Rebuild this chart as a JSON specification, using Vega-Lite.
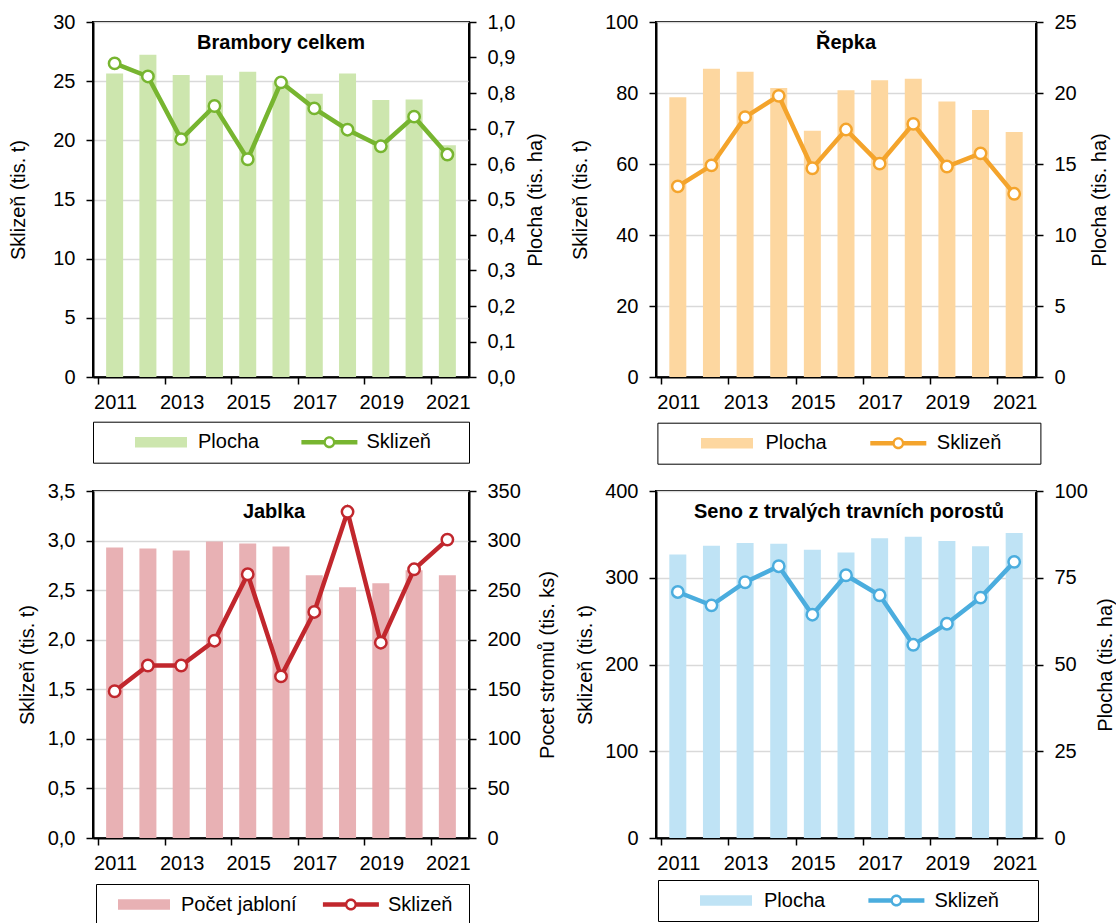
{
  "$schema": "https://vega.github.io/schema/vega-lite/v6.json",
  "padding": {"left": 7, "top": 11, "right": 0, "bottom": 0},
  "background": "white",
  "columns": 2,
  "spacing": {"row": 14, "column": 11},
  "align": "each",
  "resolve": {"scale": {"color": "independent"}},
  "config": {
    "locale": {"number": {"decimal": ",", "thousands": " ", "grouping": [3], "currency": ["", " Kč"]}},
    "font": "Liberation Sans",
    "view": {"stroke": "#000000", "strokeWidth": 2},
    "axis": {
      "labelFont": "Liberation Sans", "labelFontSize": 20, "labelColor": "#000000",
      "titleFont": "Liberation Sans", "titleFontSize": 20, "titleFontWeight": "normal", "titleColor": "#000000",
      "domainColor": "#000000", "domainWidth": 2, "tickColor": "#000000", "tickWidth": 1.5, "tickSize": 7,
      "labelPadding": 11, "gridColor": "#d9d9d9", "gridWidth": 1.3
    },
    "title": {"font": "Liberation Sans", "fontSize": 20, "fontWeight": "bold", "color": "#000000", "frame": "group", "anchor": "middle", "baseline": "middle", "offset": -41}
  },
  "concat": [
    {
      "width": 376, "height": 355,
      "title": {"text": "Brambory celkem"},
      "data": {"values": [
        {"rok": 2011, "plocha": 0.855, "sklizen": 26.5},
        {"rok": 2012, "plocha": 0.908, "sklizen": 25.4},
        {"rok": 2013, "plocha": 0.851, "sklizen": 20.1},
        {"rok": 2014, "plocha": 0.850, "sklizen": 22.9},
        {"rok": 2015, "plocha": 0.860, "sklizen": 18.4},
        {"rok": 2016, "plocha": 0.830, "sklizen": 24.9},
        {"rok": 2017, "plocha": 0.798, "sklizen": 22.7},
        {"rok": 2018, "plocha": 0.855, "sklizen": 20.9},
        {"rok": 2019, "plocha": 0.780, "sklizen": 19.5},
        {"rok": 2020, "plocha": 0.782, "sklizen": 22.0},
        {"rok": 2021, "plocha": 0.653, "sklizen": 18.8}
      ]},
      "resolve": {"scale": {"y": "independent"}},
      "layer": [
        {
          "mark": {"type": "bar", "width": 17},
          "encoding": {
            "x": {"field": "rok", "type": "quantitative", "scale": {"domain": [2010.5, 2021.5], "nice": false, "zero": false},
              "axis": {"title": null, "grid": false, "values": [2010.5, 2011.5, 2012.5, 2013.5, 2014.5, 2015.5, 2016.5, 2017.5, 2018.5, 2019.5, 2020.5, 2021.5],
                "labelExpr": "(datum.value + 0.5) % 2 == 1 ? '' + (datum.value + 0.5) : ''", "labelOffset": 17.09, "labelFlush": false, "labelOverlap": false, "labelPadding": 8}},
            "y": {"field": "plocha", "type": "quantitative", "scale": {"domain": [0, 1], "nice": false},
              "axis": {"orient": "right", "title": "Plocha (tis. ha)", "grid": false, "values": [0, 0.1, 0.2, 0.3, 0.4, 0.5, 0.6, 0.7, 0.8, 0.9, 1.0], "format": ".1f",
                "titleAngle": 270, "titleX": 66, "titleY": 177.5, "titleBaseline": "middle", "titleAlign": "center"}},
            "color": {"datum": "Plocha", "type": "nominal", "scale": {"domain": ["Plocha", "Sklizeň"], "range": ["#cde6ae", "#77b530"]},
              "legend": {"orient": "none", "legendX": 0, "legendY": 399.7, "direction": "horizontal", "title": null,
                "padding": 10.5, "strokeColor": "#000000", "fillColor": "#ffffff",
                "symbolSize": 400, "symbolStrokeWidth": 0, "symbolOffset": 47.5, "labelOffset": 27, "columnPadding": 12.4,
                "labelFontSize": 20, "labelFont": "Liberation Sans", "labelColor": "#000000", "labelLimit": 300,
                "encode": {"symbols": {"update": {
                  "shape": {"signal": "datum.value === 'Plocha' ? 'M-5.75,0M-2.6,-0.53H2.6V0.53H-2.6Z' : 'M-5.75,0M12.85,0M-2.8,-0.22H-0.5V0.22H-2.8ZM0.5,-0.22H2.8V0.22H0.5ZM0.6,0A0.6,0.6 0 1,1 -0.6,0A0.6,0.6 0 1,1 0.6,0ZM0.36,0A0.36,0.36 0 1,0 -0.36,0A0.36,0.36 0 1,0 0.36,0Z'"},
                  "fill": {"signal": "datum.value === 'Plocha' ? '#cde6ae' : '#77b530'"},
                  "stroke": {"value": "transparent"}, "strokeWidth": {"value": 0}, "opacity": {"value": 1}}}}}}
          }
        },
        {
          "mark": {"type": "line", "strokeWidth": 4.5},
          "encoding": {
            "x": {"field": "rok", "type": "quantitative"},
            "y": {"field": "sklizen", "type": "quantitative", "scale": {"domain": [0, 30], "nice": false},
              "axis": {"orient": "left", "title": "Sklizeň (tis. t)", "grid": true, "values": [0, 5, 10, 15, 20, 25, 30], "format": "d",
                "titleAngle": 270, "titleX": -75, "titleY": 177.5, "titleBaseline": "middle", "titleAlign": "center"}},
            "color": {"datum": "Sklizeň", "type": "nominal"}
          }
        },
        {
          "mark": {"type": "point", "filled": true, "fill": "#ffffff", "stroke": "#77b530", "strokeWidth": 2.5, "size": 130, "opacity": 1},
          "encoding": {
            "x": {"field": "rok", "type": "quantitative"},
            "y": {"field": "sklizen", "type": "quantitative", "scale": {"domain": [0, 30], "nice": false}, "axis": null}
          }
        }
      ]
    },
    {
      "width": 380, "height": 355,
      "title": {"text": "Řepka"},
      "data": {"values": [
        {"rok": 2011, "plocha": 19.7, "sklizen": 53.7},
        {"rok": 2012, "plocha": 21.7, "sklizen": 59.6},
        {"rok": 2013, "plocha": 21.5, "sklizen": 73.2},
        {"rok": 2014, "plocha": 20.35, "sklizen": 79.2},
        {"rok": 2015, "plocha": 17.35, "sklizen": 58.8},
        {"rok": 2016, "plocha": 20.2, "sklizen": 69.7},
        {"rok": 2017, "plocha": 20.9, "sklizen": 60.1},
        {"rok": 2018, "plocha": 21.0, "sklizen": 71.3},
        {"rok": 2019, "plocha": 19.4, "sklizen": 59.3},
        {"rok": 2020, "plocha": 18.8, "sklizen": 63.0},
        {"rok": 2021, "plocha": 17.25, "sklizen": 51.6}
      ]},
      "resolve": {"scale": {"y": "independent"}},
      "layer": [
        {
          "mark": {"type": "bar", "width": 17},
          "encoding": {
            "x": {"field": "rok", "type": "quantitative", "scale": {"domain": [2010.5, 2021.5], "nice": false, "zero": false},
              "axis": {"title": null, "grid": false, "values": [2010.5, 2011.5, 2012.5, 2013.5, 2014.5, 2015.5, 2016.5, 2017.5, 2018.5, 2019.5, 2020.5, 2021.5],
                "labelExpr": "(datum.value + 0.5) % 2 == 1 ? '' + (datum.value + 0.5) : ''", "labelOffset": 17.27, "labelFlush": false, "labelOverlap": false, "labelPadding": 8}},
            "y": {"field": "plocha", "type": "quantitative", "scale": {"domain": [0, 25], "nice": false},
              "axis": {"orient": "right", "title": "Plocha (tis. ha)", "grid": false, "values": [0, 5, 10, 15, 20, 25], "format": "d",
                "titleAngle": 270, "titleX": 63, "titleY": 177.5, "titleBaseline": "middle", "titleAlign": "center"}},
            "color": {"datum": "Plocha", "type": "nominal", "scale": {"domain": ["Plocha", "Sklizeň"], "range": ["#fdd7a0", "#f4a42c"]},
              "legend": {"orient": "none", "legendX": 1.4, "legendY": 400.7, "direction": "horizontal", "title": null,
                "padding": 10.5, "strokeColor": "#000000", "fillColor": "#ffffff",
                "symbolSize": 400, "symbolStrokeWidth": 0, "symbolOffset": 49.1, "labelOffset": 28.5, "columnPadding": 12.3,
                "labelFontSize": 20, "labelFont": "Liberation Sans", "labelColor": "#000000", "labelLimit": 300,
                "encode": {"symbols": {"update": {
                  "shape": {"signal": "datum.value === 'Plocha' ? 'M-5.91,0M-2.6,-0.53H2.6V0.53H-2.6Z' : 'M-5.91,0M13.12,0M-2.8,-0.22H-0.5V0.22H-2.8ZM0.5,-0.22H2.8V0.22H0.5ZM0.6,0A0.6,0.6 0 1,1 -0.6,0A0.6,0.6 0 1,1 0.6,0ZM0.36,0A0.36,0.36 0 1,0 -0.36,0A0.36,0.36 0 1,0 0.36,0Z'"},
                  "fill": {"signal": "datum.value === 'Plocha' ? '#fdd7a0' : '#f4a42c'"},
                  "stroke": {"value": "transparent"}, "strokeWidth": {"value": 0}, "opacity": {"value": 1}}}}}}
          }
        },
        {
          "mark": {"type": "line", "strokeWidth": 4.5},
          "encoding": {
            "x": {"field": "rok", "type": "quantitative"},
            "y": {"field": "sklizen", "type": "quantitative", "scale": {"domain": [0, 100], "nice": false},
              "axis": {"orient": "left", "title": "Sklizeň (tis. t)", "grid": true, "values": [0, 20, 40, 60, 80, 100], "format": "d",
                "titleAngle": 270, "titleX": -76, "titleY": 177.5, "titleBaseline": "middle", "titleAlign": "center"}},
            "color": {"datum": "Sklizeň", "type": "nominal"}
          }
        },
        {
          "mark": {"type": "point", "filled": true, "fill": "#ffffff", "stroke": "#f4a42c", "strokeWidth": 2.5, "size": 130, "opacity": 1},
          "encoding": {
            "x": {"field": "rok", "type": "quantitative"},
            "y": {"field": "sklizen", "type": "quantitative", "scale": {"domain": [0, 100], "nice": false}, "axis": null}
          }
        }
      ]
    },
    {
      "width": 376, "height": 347,
      "title": {"text": "Jablka", "dx": -7},
      "data": {"values": [
        {"rok": 2011, "plocha": 293, "sklizen": 1.48},
        {"rok": 2012, "plocha": 292, "sklizen": 1.74},
        {"rok": 2013, "plocha": 290, "sklizen": 1.74},
        {"rok": 2014, "plocha": 299, "sklizen": 1.99},
        {"rok": 2015, "plocha": 297, "sklizen": 2.66},
        {"rok": 2016, "plocha": 294, "sklizen": 1.63},
        {"rok": 2017, "plocha": 265, "sklizen": 2.28},
        {"rok": 2018, "plocha": 253, "sklizen": 3.29},
        {"rok": 2019, "plocha": 257, "sklizen": 1.97},
        {"rok": 2020, "plocha": 270, "sklizen": 2.71},
        {"rok": 2021, "plocha": 265, "sklizen": 3.01}
      ]},
      "resolve": {"scale": {"y": "independent"}},
      "layer": [
        {
          "mark": {"type": "bar", "width": 17},
          "encoding": {
            "x": {"field": "rok", "type": "quantitative", "scale": {"domain": [2010.5, 2021.5], "nice": false, "zero": false},
              "axis": {"title": null, "grid": false, "values": [2010.5, 2011.5, 2012.5, 2013.5, 2014.5, 2015.5, 2016.5, 2017.5, 2018.5, 2019.5, 2020.5, 2021.5],
                "labelExpr": "(datum.value + 0.5) % 2 == 1 ? '' + (datum.value + 0.5) : ''", "labelOffset": 17.09, "labelFlush": false, "labelOverlap": false, "labelPadding": 8}},
            "y": {"field": "plocha", "type": "quantitative", "scale": {"domain": [0, 350], "nice": false},
              "axis": {"orient": "right", "title": "Pocet stromů (tis. ks)", "grid": false, "values": [0, 50, 100, 150, 200, 250, 300, 350], "format": "d",
                "titleAngle": 270, "titleX": 78, "titleY": 173.5, "titleBaseline": "middle", "titleAlign": "center"}},
            "color": {"datum": "Počet jabloní", "type": "nominal", "scale": {"domain": ["Počet jabloní", "Sklizeň"], "range": ["#e8b1b4", "#c1272d"]},
              "legend": {"orient": "none", "legendX": 3, "legendY": 393, "direction": "horizontal", "title": null,
                "padding": 10.5, "strokeColor": "#000000", "fillColor": "#ffffff",
                "symbolSize": 400, "symbolStrokeWidth": 0, "symbolOffset": 27.5, "labelOffset": 27, "columnPadding": 15.9,
                "labelFontSize": 20, "labelFont": "Liberation Sans", "labelColor": "#000000", "labelLimit": 300,
                "encode": {"symbols": {"update": {
                  "shape": {"signal": "datum.value === 'Počet jabloní' ? 'M-3.75,0M-2.6,-0.53H2.6V0.53H-2.6Z' : 'M-3.75,0M10.75,0M-2.8,-0.22H-0.5V0.22H-2.8ZM0.5,-0.22H2.8V0.22H0.5ZM0.6,0A0.6,0.6 0 1,1 -0.6,0A0.6,0.6 0 1,1 0.6,0ZM0.36,0A0.36,0.36 0 1,0 -0.36,0A0.36,0.36 0 1,0 0.36,0Z'"},
                  "fill": {"signal": "datum.value === 'Počet jabloní' ? '#e8b1b4' : '#c1272d'"},
                  "stroke": {"value": "transparent"}, "strokeWidth": {"value": 0}, "opacity": {"value": 1}}}}}}
          }
        },
        {
          "mark": {"type": "line", "strokeWidth": 4.5},
          "encoding": {
            "x": {"field": "rok", "type": "quantitative"},
            "y": {"field": "sklizen", "type": "quantitative", "scale": {"domain": [0, 3.5], "nice": false},
              "axis": {"orient": "left", "title": "Sklizeň (tis. t)", "grid": true, "values": [0, 0.5, 1, 1.5, 2, 2.5, 3, 3.5], "format": ".1f",
                "titleAngle": 270, "titleX": -65.5, "titleY": 173.5, "titleBaseline": "middle", "titleAlign": "center"}},
            "color": {"datum": "Sklizeň", "type": "nominal"}
          }
        },
        {
          "mark": {"type": "point", "filled": true, "fill": "#ffffff", "stroke": "#c1272d", "strokeWidth": 2.5, "size": 130, "opacity": 1},
          "encoding": {
            "x": {"field": "rok", "type": "quantitative"},
            "y": {"field": "sklizen", "type": "quantitative", "scale": {"domain": [0, 3.5], "nice": false}, "axis": null}
          }
        }
      ]
    },
    {
      "width": 380, "height": 347,
      "title": {"text": "Seno z trvalých travních porostů", "dx": 3},
      "data": {"values": [
        {"rok": 2011, "plocha": 81.7, "sklizen": 283.6},
        {"rok": 2012, "plocha": 84.2, "sklizen": 268.2},
        {"rok": 2013, "plocha": 85.0, "sklizen": 294.8},
        {"rok": 2014, "plocha": 84.8, "sklizen": 313.3},
        {"rok": 2015, "plocha": 83.1, "sklizen": 257.4},
        {"rok": 2016, "plocha": 82.3, "sklizen": 302.9},
        {"rok": 2017, "plocha": 86.4, "sklizen": 279.8},
        {"rok": 2018, "plocha": 86.8, "sklizen": 222.7},
        {"rok": 2019, "plocha": 85.6, "sklizen": 247.0},
        {"rok": 2020, "plocha": 84.1, "sklizen": 277.1},
        {"rok": 2021, "plocha": 87.9, "sklizen": 318.3}
      ]},
      "resolve": {"scale": {"y": "independent"}},
      "layer": [
        {
          "mark": {"type": "bar", "width": 17},
          "encoding": {
            "x": {"field": "rok", "type": "quantitative", "scale": {"domain": [2010.5, 2021.5], "nice": false, "zero": false},
              "axis": {"title": null, "grid": false, "values": [2010.5, 2011.5, 2012.5, 2013.5, 2014.5, 2015.5, 2016.5, 2017.5, 2018.5, 2019.5, 2020.5, 2021.5],
                "labelExpr": "(datum.value + 0.5) % 2 == 1 ? '' + (datum.value + 0.5) : ''", "labelOffset": 17.27, "labelFlush": false, "labelOverlap": false, "labelPadding": 8}},
            "y": {"field": "plocha", "type": "quantitative", "scale": {"domain": [0, 100], "nice": false},
              "axis": {"orient": "right", "title": "Plocha (tis. ha)", "grid": false, "values": [0, 25, 50, 75, 100], "format": "d",
                "titleAngle": 270, "titleX": 69, "titleY": 173.5, "titleBaseline": "middle", "titleAlign": "center"}},
            "color": {"datum": "Plocha", "type": "nominal", "scale": {"domain": ["Plocha", "Sklizeň"], "range": ["#bfe3f5", "#4badde"]},
              "legend": {"orient": "none", "legendX": 2, "legendY": 389, "direction": "horizontal", "title": null,
                "padding": 10.5, "strokeColor": "#000000", "fillColor": "#ffffff",
                "symbolSize": 400, "symbolStrokeWidth": 0, "symbolOffset": 47.5, "labelOffset": 28, "columnPadding": 13.4,
                "labelFontSize": 20, "labelFont": "Liberation Sans", "labelColor": "#000000", "labelLimit": 300,
                "encode": {"symbols": {"update": {
                  "shape": {"signal": "datum.value === 'Plocha' ? 'M-5.75,0M-2.6,-0.53H2.6V0.53H-2.6Z' : 'M-5.75,0M13.05,0M-2.8,-0.22H-0.5V0.22H-2.8ZM0.5,-0.22H2.8V0.22H0.5ZM0.6,0A0.6,0.6 0 1,1 -0.6,0A0.6,0.6 0 1,1 0.6,0ZM0.36,0A0.36,0.36 0 1,0 -0.36,0A0.36,0.36 0 1,0 0.36,0Z'"},
                  "fill": {"signal": "datum.value === 'Plocha' ? '#bfe3f5' : '#4badde'"},
                  "stroke": {"value": "transparent"}, "strokeWidth": {"value": 0}, "opacity": {"value": 1}}}}}}
          }
        },
        {
          "mark": {"type": "line", "strokeWidth": 4.5},
          "encoding": {
            "x": {"field": "rok", "type": "quantitative"},
            "y": {"field": "sklizen", "type": "quantitative", "scale": {"domain": [0, 400], "nice": false},
              "axis": {"orient": "left", "title": "Sklizeň (tis. t)", "grid": true, "values": [0, 100, 200, 300, 400], "format": "d",
                "titleAngle": 270, "titleX": -71, "titleY": 173.5, "titleBaseline": "middle", "titleAlign": "center"}},
            "color": {"datum": "Sklizeň", "type": "nominal"}
          }
        },
        {
          "mark": {"type": "point", "filled": true, "fill": "#ffffff", "stroke": "#4badde", "strokeWidth": 2.5, "size": 130, "opacity": 1},
          "encoding": {
            "x": {"field": "rok", "type": "quantitative"},
            "y": {"field": "sklizen", "type": "quantitative", "scale": {"domain": [0, 400], "nice": false}, "axis": null}
          }
        }
      ]
    }
  ]
}
